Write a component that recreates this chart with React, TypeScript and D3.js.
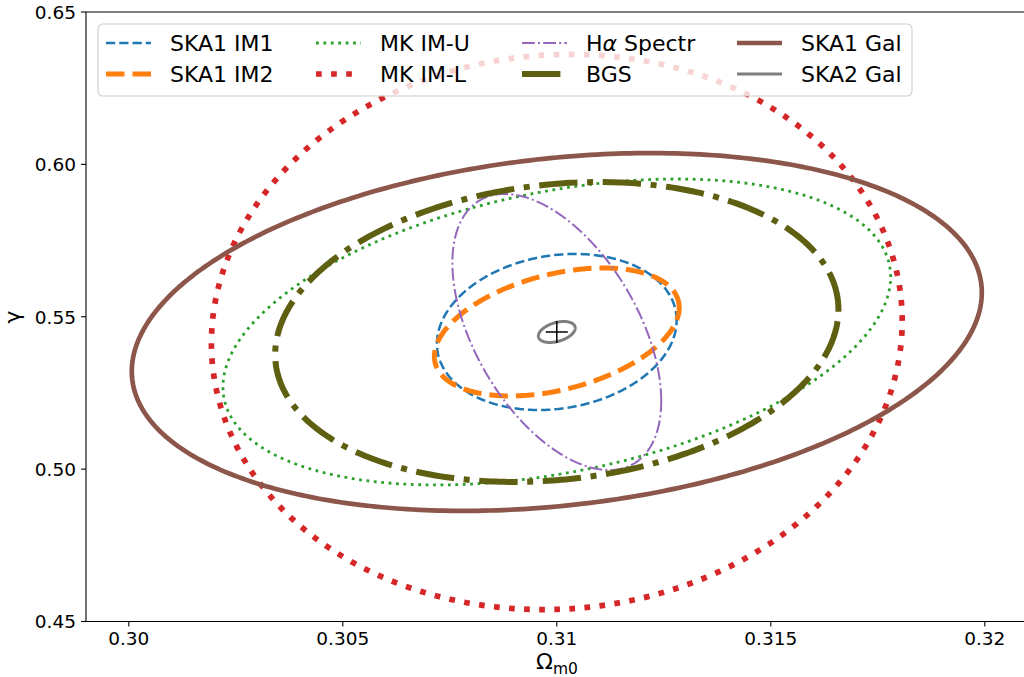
import React from 'react';
import * as d3 from 'd3';

// ---- data ----
const seriesNames = ['SKA1 IM1', 'SKA1 IM2', 'MK IM-U', 'MK IM-L', 'Hα Spectr', 'BGS', 'SKA1 Gal', 'SKA2 Gal'];
const centerOm = [0.31, 0.31, 0.31, 0.31, 0.31, 0.31, 0.31, 0.31];
const centerGamma = [0.545, 0.545, 0.545, 0.545, 0.545, 0.545, 0.545, 0.545];
const sigmaOm = [0.0028, 0.00286, 0.0078, 0.00807, 0.00244, 0.00658, 0.00993, 0.00043];
const sigmaGamma = [0.0256, 0.021, 0.0502, 0.0911, 0.0453, 0.0492, 0.0587, 0.00344];
const corr = [0.15, 0.38, 0.36, 0.04, -0.5, 0.15, 0.22, 0.38];
const fiducial = [0.31, 0.545];

const xTicks = [0.3, 0.305, 0.31, 0.315, 0.32];
const xTickLabels = ['0.30', '0.305', '0.31', '0.315', '0.32'];
const yTicks = [0.45, 0.5, 0.55, 0.6, 0.65];
const yTickLabels = ['0.45', '0.50', '0.55', '0.60', '0.65'];

// ---- styles ----
const colors = ['#1f77b4', '#ff7f0e', '#2ca02c', '#d62728', '#9467bd', '#5f5f12', '#8c564b', '#7f7f7f'];
const widths = [2.5, 5, 2.8, 5.7, 2, 6, 4.7, 3];
const patterns: (number[] | null)[] = [
  [3.7, 1.6], [3.7, 1.6], [1, 1.65], [1, 1.65], [6.4, 1.6, 1, 1.6], [6.4, 1.6, 1, 1.6], null, null,
];

const W = 1024, H = 677;
const font = 'DejaVu Sans, sans-serif';

export default function App() {
  const x = d3.scaleLinear().domain([0.299, 0.321]).range([86, 1027.6]);
  const y = d3.scaleLinear().domain([0.45, 0.65]).range([621.5, 12]);
  const line = d3.line<[number, number]>().x(d => x(d[0])).y(d => y(d[1])).curve(d3.curveLinearClosed);

  const ellipse = (i: number) => {
    const pts: [number, number][] = [];
    const n = 400;
    const r = corr[i];
    for (let k = 0; k < n; k++) {
      const t = (k / n) * 2 * Math.PI;
      pts.push([
        centerOm[i] + sigmaOm[i] * Math.cos(t),
        centerGamma[i] + sigmaGamma[i] * (r * Math.cos(t) + Math.sqrt(1 - r * r) * Math.sin(t)),
      ]);
    }
    return line(pts) || '';
  };
  const dash = (i: number) => (patterns[i] ? patterns[i]!.map(v => (v * widths[i]).toFixed(2)).join(' ') : undefined);

  const legendCols = [106, 316, 522, 737];
  const legendRows = [43, 74];
  const handleLen = 45;

  return (
    <svg width={W} height={H} style={{ position: 'absolute', left: 0, top: 0, background: '#fff' }} fontFamily={font}>
      <defs>
        <clipPath id="plot">
          <rect x={86} y={12} width={1027.6 - 86} height={621.5 - 12} />
        </clipPath>
      </defs>
      <rect width={W} height={H} fill="#fff" />
      <g clipPath="url(#plot)">
        {seriesNames.map((s, i) => (
          <path key={s} d={ellipse(i)} fill="none" stroke={colors[i]} strokeWidth={widths[i]}
            strokeDasharray={dash(i)} strokeLinecap="butt" strokeLinejoin="round" />
        ))}
        <line x1={x(fiducial[0]) - 11} x2={x(fiducial[0]) + 11} y1={y(fiducial[1])} y2={y(fiducial[1])} stroke="#000" strokeWidth={1.5} />
        <line x1={x(fiducial[0])} x2={x(fiducial[0])} y1={y(fiducial[1]) - 11} y2={y(fiducial[1]) + 11} stroke="#000" strokeWidth={1.5} />
      </g>
      {/* spines */}
      <line x1={86} x2={86} y1={12} y2={621.5} stroke="#000" strokeWidth={1.1} />
      <line x1={86} x2={1027.6} y1={621.5} y2={621.5} stroke="#000" strokeWidth={1.1} />
      <line x1={86} x2={1027.6} y1={12} y2={12} stroke="#000" strokeWidth={1.1} />
      <line x1={1027.6} x2={1027.6} y1={12} y2={621.5} stroke="#000" strokeWidth={1.1} />
      {/* x ticks */}
      {xTicks.map((t, i) => (
        <g key={t}>
          <line x1={x(t)} x2={x(t)} y1={621.5} y2={626.5} stroke="#000" strokeWidth={1.1} />
          <text x={x(t)} y={645} fontSize={18.5} textAnchor="middle" fill="#000">{xTickLabels[i]}</text>
        </g>
      ))}
      {/* y ticks */}
      {yTicks.map((t, i) => (
        <g key={t}>
          <line x1={81} x2={86} y1={y(t)} y2={y(t)} stroke="#000" strokeWidth={1.1} />
          <text x={76} y={y(t) + 6.8} fontSize={18.5} textAnchor="end" fill="#000">{yTickLabels[i]}</text>
        </g>
      ))}
      {/* axis labels */}
      <text x={557} y={669} fontSize={22} textAnchor="middle" fill="#000">
        Ω<tspan fontSize={15.5} dy={5}>m0</tspan>
      </text>
      <text transform={`translate(20,317) rotate(-90)`} fontSize={22} textAnchor="middle" fill="#000">γ</text>
      {/* legend */}
      <rect x={98} y={24} width={814} height={72} rx={5} ry={5} fill="#fff" fillOpacity={0.8} stroke="#cccccc" strokeWidth={1.1} />
      {seriesNames.map((s, i) => {
        const col = Math.floor(i / 2);
        const row = i % 2;
        const lx = legendCols[col];
        const ly = legendRows[row];
        return (
          <g key={s}>
            <line x1={lx} x2={lx + handleLen} y1={ly} y2={ly} stroke={colors[i]} strokeWidth={widths[i]}
              strokeDasharray={dash(i)} strokeLinecap="butt" />
            <text x={lx + handleLen + 19} y={ly + 8} fontSize={22} fill="#000">
              {s === 'Hα Spectr' ? (<>H<tspan fontStyle="italic">α</tspan> Spectr</>) : s}
            </text>
          </g>
        );
      })}
    </svg>
  );
}
